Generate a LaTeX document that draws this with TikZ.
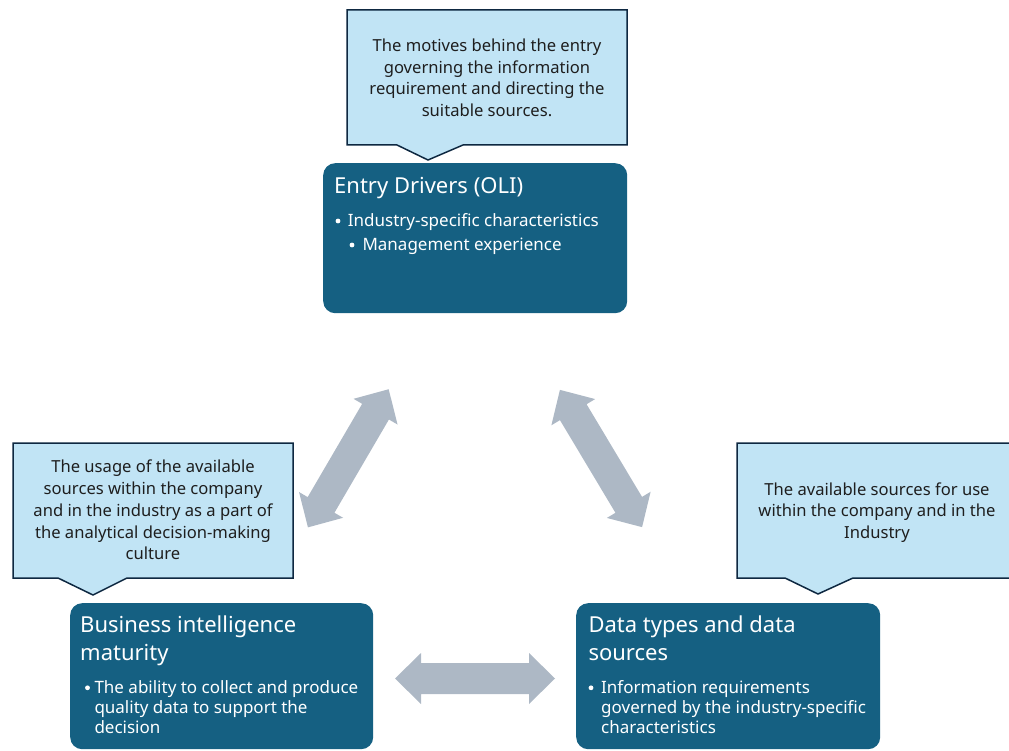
\documentclass[tikz,border=0pt]{standalone}
\usepackage{fontspec}
\setmainfont{Noto Sans}
\definecolor{boxblue}{HTML}{156082}
\definecolor{callfill}{HTML}{C1E4F5}
\definecolor{callline}{HTML}{0E2841}
\definecolor{arrowgray}{HTML}{ADB8C5}
\definecolor{calltext}{HTML}{1E1E1E}
\newcommand\blockarrow[2]{%
  \begin{scope}[shift={#1}, rotate=#2]
    \fill[arrowgray] (-80,0) -- (-54,-25.5) -- (-54,-15.5) -- (54,-15.5) -- (54,-25.5)
      -- (80,0) -- (54,25.5) -- (54,15.5) -- (-54,15.5) -- (-54,25.5) -- cycle;
  \end{scope}}
\begin{document}
\begin{tikzpicture}[x=1pt,y=-1pt,
  mainbox/.style={fill=boxblue, rounded corners=12pt, anchor=north west, inner sep=0pt},
  callout/.style={fill=callfill, draw=callline, line width=1.5pt, line join=miter},
  callt/.style={font=\fontsize{16.6}{20}\selectfont, text=calltext, anchor=base, inner sep=0pt},
  boxt/.style={font=\fontsize{17}{20}\selectfont, text=white, anchor=base west, inner sep=0pt},
  titlet/.style={font=\fontsize{22}{26}\selectfont, text=white, anchor=base west, inner sep=0pt},
  dot/.style={circle, fill=white, inner sep=0pt, minimum size=4.8pt}]
\path[use as bounding box] (0,0) rectangle (1009,751);
\clip (0,0) rectangle (1009,751);

% main boxes
\node[mainbox, minimum width=304pt, minimum height=150pt] (entry) at (323,163) {};
\node[mainbox, minimum width=303pt, minimum height=146pt] (bi) at (70,603) {};
\node[mainbox, minimum width=304pt, minimum height=146pt] (data) at (576,603) {};

% callouts
\draw[callout] (347,10) -- (627,10) -- (627,145) -- (463,145) -- (428,160) -- (397,145) -- (347,145) -- cycle;
\draw[callout] (13,443) -- (293,443) -- (293,578) -- (127,578) -- (93,595) -- (58,578) -- (13,578) -- cycle;
\draw[callout] (737,443) -- (1015,443) -- (1015,578) -- (853,578) -- (818,594) -- (785,578) -- (737,578) -- cycle;

% callout texts
\node[callt] (c1a) at (487,52) {The motives behind the entry};
\node[callt] (c1b) at (487,73.5) {governing the information};
\node[callt] (c1c) at (487,95) {requirement and directing the};
\node[callt] (c1d) at (487,116.5) {suitable sources.};

\node[callt] (c2a) at (153,472.7) {The usage of the available};
\node[callt] (c2b) at (153,494.5) {sources within the company};
\node[callt] (c2c) at (153,516.3) {and in the industry as a part of};
\node[callt] (c2d) at (153,538.1) {the analytical decision-making};
\node[callt] (c2e) at (153,559.9) {culture};

\node[callt] (c3a) at (877,495) {The available sources for use};
\node[callt] (c3b) at (877,516.7) {within the company and in the};
\node[callt] (c3c) at (877,538.4) {Industry};

% entry box text
\node[titlet] (t1) at (334,193.5) {Entry Drivers (OLI)};
\node[dot] (d1a) at (338,221) {};
\node[boxt] (b1a) at (347.7,226.7) {Industry-specific characteristics};
\node[dot] (d1b) at (352,245) {};
\node[boxt] (b1b) at (362.3,250.7) {Management experience};

% BI box text
\node[titlet] (t2a) at (80,632.7) {Business intelligence};
\node[titlet] (t2b) at (80,660) {maturity};
\node[dot] (d2) at (87.5,687.8) {};
\node[boxt] (b2a) at (94.3,693.3) {The ability to collect and produce};
\node[boxt] (b2b) at (94.3,713.3) {quality data to support the};
\node[boxt] (b2c) at (94.3,733.3) {decision};

% Data box text
\node[titlet] (t3a) at (588.3,632.5) {Data types and data};
\node[titlet] (t3b) at (588.3,660) {sources};
\node[dot] (d3) at (591,687.8) {};
\node[boxt] (b3a) at (601,693.3) {Information requirements};
\node[boxt] (b3b) at (601,713.3) {governed by the industry-specific};
\node[boxt] (b3c) at (601,733.3) {characteristics};

% block arrows
\blockarrow{(348.3,458.3)}{59.7}
\blockarrow{(601,458.5)}{-59.1}
\blockarrow{(475,678.5)}{0}
\end{tikzpicture}
\end{document}
